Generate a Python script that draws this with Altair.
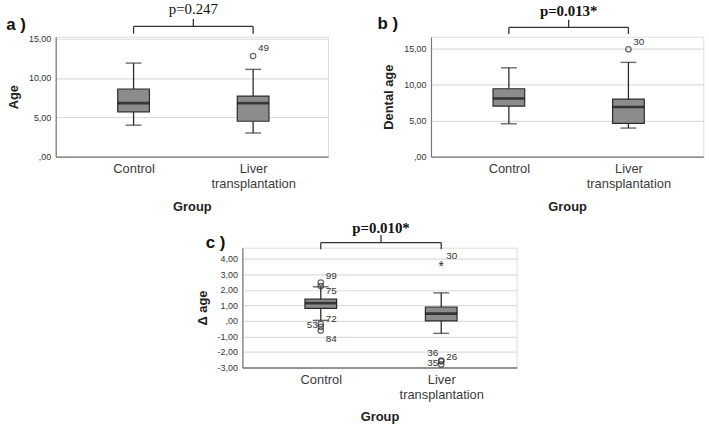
import altair as alt
import pandas as pd

# ---------------- data ----------------
positions = [1, 2]
group_names = ["Control", "Liver transplantation"]

# panel a: Age
a_lo = [4.0, 3.0]
a_q1 = [5.7, 4.5]
a_med = [6.8, 6.8]
a_q3 = [8.6, 7.7]
a_hi = [11.9, 11.1]
a_out_pos = [2]
a_out_val = [12.8]
a_out_lab = ["49"]
a_lab_val = [13.8]
a_lab_side = ["right"]
a_out_star = [False]
a_yticks = [0, 5, 10, 15]

# panel b: Dental age
b_lo = [4.55, 3.95]
b_q1 = [7.0, 4.6]
b_med = [8.05, 6.86]
b_q3 = [9.4, 7.95]
b_hi = [12.3, 13.05]
b_out_pos = [2]
b_out_val = [14.87]
b_out_lab = ["30"]
b_lab_val = [15.87]
b_lab_side = ["right"]
b_out_star = [False]
b_yticks = [0, 5, 10, 15]

# panel c: delta age
c_lo = [0.04, -0.8]
c_q1 = [0.81, 0.0]
c_med = [1.15, 0.47]
c_q3 = [1.4, 0.9]
c_hi = [2.2, 1.81]
c_out_pos = [1, 1, 1, 1, 1, 2, 2, 2, 2]
c_out_val = [2.47, 2.25, -0.2, -0.38, -0.62, 3.7, -2.55, -2.6, -2.8]
c_out_lab = ["99", "75", "72", "53", "84", "30", "36", "26", "35"]
c_lab_val = [2.9, 1.95, 0.1, -0.25, -1.15, 4.19, -2.04, -2.34, -2.68]
c_lab_side = ["right", "right", "right", "left", "right", "right", "left", "right", "left"]
c_out_star = [False, False, False, False, False, True, False, False, False]
c_yticks = [-3, -2, -1, 0, 1, 2, 3, 4]

X_DOMAIN = [0.39, 2.585]
GRID = "#dcdcdc"
DARK = "#2b2b2b"
BOXFILL = "#8c8c8c"

label_expr_y = ("datum.value == 0 ? ',00' : (datum.value < 0 ? '-' : '') + "
                "replace(format(abs(datum.value), '.2f'), '.', ',')")
label_expr_x = "datum.value == 1 ? 'Control' : ['Liver', 'transplantation']"


def panel(lo, q1, med, q3, hi, out_pos, out_val, out_lab, lab_val, lab_side, out_star,
          yticks, ydom, ytitle, ptext, pbold, letter, letter_off, brk, width=275):
    box = pd.DataFrame({"pos": positions, "group": group_names, "lo": lo, "q1": q1,
                        "med": med, "q3": q3, "hi": hi})
    out = pd.DataFrame({"pos": out_pos, "val": out_val, "lab": out_lab,
                        "labval": lab_val, "side": lab_side, "star": out_star})
    h_line, end_y, top_y, text_y = brk
    brace = pd.DataFrame({"x1": [1.0, 1.0, 2.0, 1.5], "x2": [2.0, 1.0, 2.0, 1.5],
                          "y1": [h_line, h_line, h_line, h_line],
                          "y2": [h_line, end_y, end_y, top_y]})
    ptxt = pd.DataFrame({"x": [1.5], "y": [text_y], "t": [ptext]})
    ltxt = pd.DataFrame({"t": [letter]})

    x_enc = alt.X("pos:Q", scale=alt.Scale(domain=X_DOMAIN, nice=False, zero=False),
                  axis=alt.Axis(values=positions, tickCount=2, labelExpr=label_expr_x,
                                title="Group", grid=False, ticks=False, labelFontSize=13,
                                labelColor="#3a3a3a", labelFont="Liberation Sans",
                                labelPadding=6, titleFont="Liberation Sans",
                                titleFontSize=13, titleFontWeight="bold",
                                titleColor="#222", titlePadding=10,
                                domainColor="#777", domainWidth=1.3))
    y_scale = alt.Scale(domain=ydom, nice=False, zero=False)
    y_axis = alt.Axis(values=yticks, tickCount=len(yticks), labelExpr=label_expr_y,
                      title=ytitle, grid=True,
                      gridColor=GRID, gridWidth=1.2, ticks=False, labelFontSize=9,
                      labelFont="Liberation Sans", labelColor="#333", labelPadding=5,
                      labelOverlap=False, labelFlush=False,
                      titleFont="Liberation Sans", titleFontSize=13, titleFontWeight="bold",
                      titleColor="#222", titlePadding=8, domainColor="#777",
                      domainWidth=1.2)

    base = alt.Chart(box)
    whisk = base.mark_rule(color=DARK, strokeWidth=1.3).encode(
        x=x_enc, y=alt.Y("lo:Q", scale=y_scale, axis=y_axis), y2="hi:Q")
    caps_lo = base.mark_tick(color=DARK, orient="horizontal", size=16, thickness=1.4).encode(
        x="pos:Q", y="lo:Q")
    caps_hi = base.mark_tick(color=DARK, orient="horizontal", size=16, thickness=1.4).encode(
        x="pos:Q", y="hi:Q")
    boxes = base.mark_bar(size=32, color=BOXFILL, stroke=DARK, strokeWidth=1.2).encode(
        x="pos:Q", y="q1:Q", y2="q3:Q")
    meds = base.mark_tick(color="#111", orient="horizontal", size=32, thickness=2.6).encode(
        x="pos:Q", y="med:Q")

    ob = alt.Chart(out)
    circ = ob.transform_filter("!datum.star").mark_point(
        shape="circle", filled=False, color=DARK, size=30, strokeWidth=1.3).encode(
        x="pos:Q", y="val:Q")
    star = ob.transform_filter("datum.star").mark_text(
        text="*", fontSize=14, color=DARK, font="Liberation Sans", dy=4).encode(
        x="pos:Q", y="val:Q")
    lab_r = ob.transform_filter("datum.side == 'right'").mark_text(
        align="left", dx=5, fontSize=10, color="#333", font="Liberation Sans").encode(
        x="pos:Q", y="labval:Q", text="lab:N")
    lab_l = ob.transform_filter("datum.side == 'left'").mark_text(
        align="right", dx=-3, fontSize=10, color="#333", font="Liberation Sans").encode(
        x="pos:Q", y="labval:Q", text="lab:N")

    br = alt.Chart(brace).mark_rule(color="#333", strokeWidth=1.3).encode(
        x="x1:Q", x2="x2:Q", y="y1:Q", y2="y2:Q")
    pt = alt.Chart(ptxt).mark_text(
        font="Liberation Serif", fontSize=15, fontWeight="bold" if pbold else "normal",
        color="#111").encode(x="x:Q", y="y:Q", text="t:N")
    lt = alt.Chart(ltxt).mark_text(
        font="Liberation Sans", fontSize=17, fontWeight="bold", color="#111",
        align="left").encode(x=alt.value(letter_off[0]), y=alt.value(letter_off[1]),
                             text="t:N")

    return alt.layer(whisk, caps_lo, caps_hi, boxes, meds, circ, star, lab_r, lab_l,
                     br, pt, lt).properties(width=width, height=121)


pa = panel(a_lo, a_q1, a_med, a_q3, a_hi, a_out_pos, a_out_val, a_out_lab, a_lab_val,
           a_lab_side, a_out_star, a_yticks, [0, 15.25], "Age", "p=0.247", False, "a )",
           (-50, -12), (16.56, 15.65, 17.5, 18.8))
pb = panel(b_lo, b_q1, b_med, b_q3, b_hi, b_out_pos, b_out_val, b_out_lab, b_lab_val,
           b_lab_side, b_out_star, b_yticks, [0, 16.6], "Dental age", "p=0.013*", True, "b )",
           (-54, -13), (17.9, 17.0, 18.96, 20.1))
pc = panel(c_lo, c_q1, c_med, c_q3, c_hi, c_out_pos, c_out_val, c_out_lab, c_lab_val,
           c_lab_side, c_out_star, c_yticks, [-3, 4.72], "Δ age", "p=0.010*", True, "c )",
           (-37, -5), (5.04, 4.62, 5.53, 6.0), width=277)

top = alt.hconcat(pa, pb, spacing=48)
chart = alt.vconcat(top, pc, spacing=6, center=True).properties(
    padding={"left": 5, "top": -1, "right": 5, "bottom": 5}
).configure_view(stroke=None).configure(background="white")

chart.save("out.html", embed_options={"renderer": "svg", "actions": False})
